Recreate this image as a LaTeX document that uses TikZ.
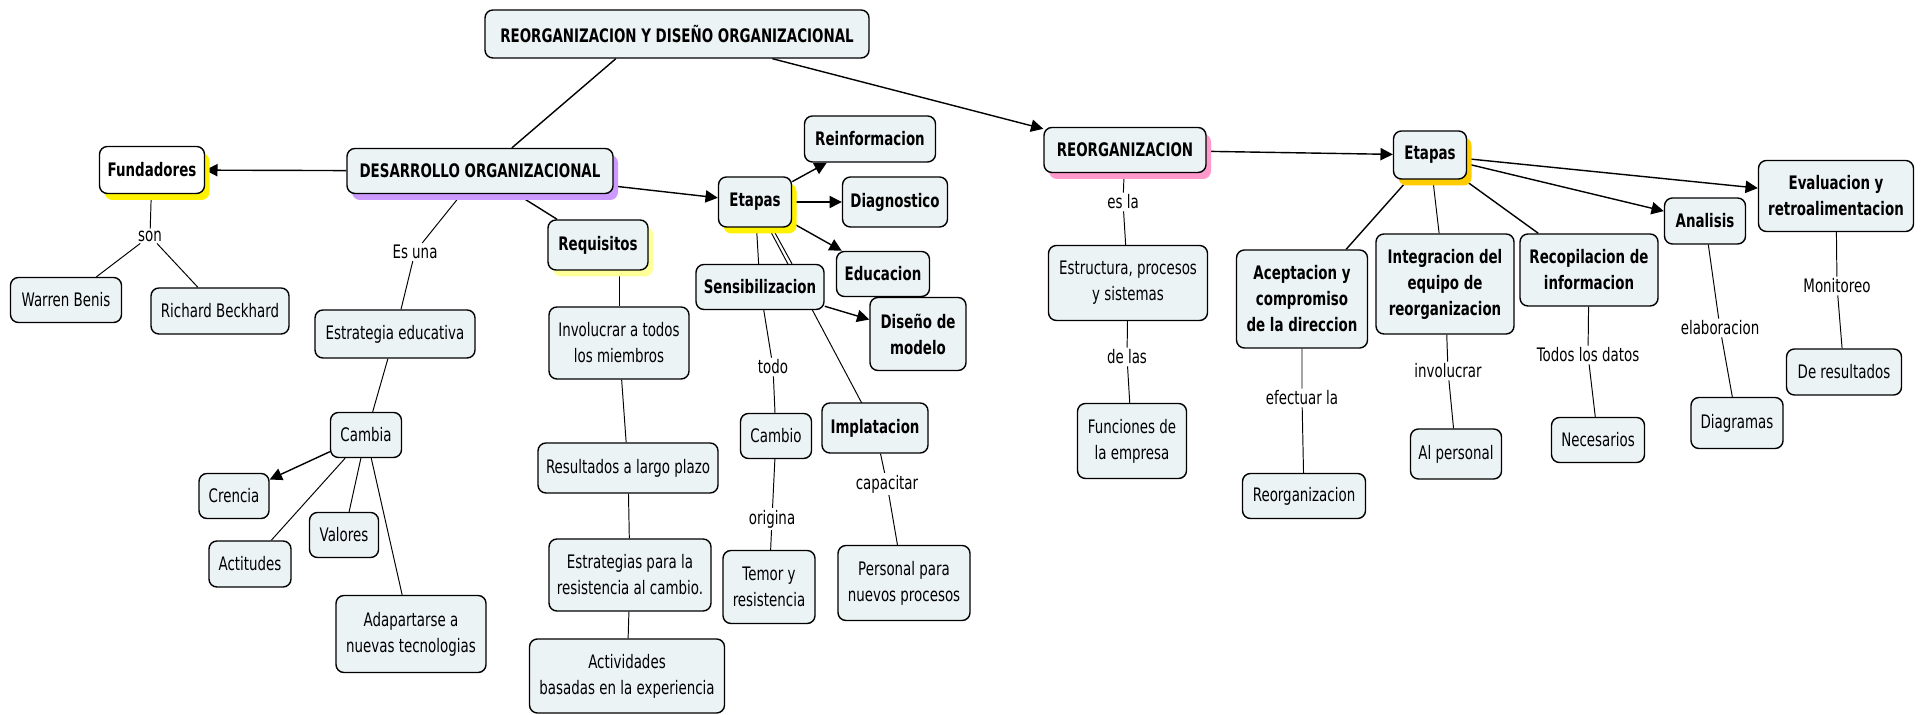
\documentclass[tikz,border=0pt]{standalone}
\usepackage{fontspec}
\setmainfont{DejaVu Sans}[FakeStretch=0.72]
\usetikzlibrary{arrows.meta,shadows,backgrounds}
\definecolor{boxfill}{RGB}{236,243,244}
\definecolor{lilac}{RGB}{204,153,255}
\definecolor{paleyellow}{RGB}{255,255,153}
\definecolor{rosy}{RGB}{255,153,204}
\definecolor{gold}{RGB}{255,204,0}

\begin{document}
\begin{tikzpicture}[x=0.02cm, y=-0.02cm,
	> = {Triangle[length=7pt,width=7pt]}, % arrow head style
	concept/.style={draw, rounded corners=4.5pt, fill=boxfill, line width=0.8pt,
		align=center, inner sep=2pt, font=\fontsize{10.6}{14.8}\selectfont},
	key/.style={concept, font=\fontsize{10.6}{14.8}\selectfont\bfseries},
	phrase/.style={inner sep=1pt, align=center, font=\fontsize{10.6}{14.8}\selectfont},
	wh/.style 2 args={minimum width=#1*0.02cm, minimum height=#2*0.02cm},
	halo/.style={drop shadow={shadow xshift=0.1cm, shadow yshift=-0.13cm, fill=#1, opacity=1}},
	link/.style={line width=0.8pt},
	thinlink/.style={line width=0.55pt}]
	\useasboundingbox (0,0) rectangle (1927,715);

	% top
	\node[key, wh={384}{48}] (title) at (677,34) {REORGANIZACION Y DISEÑO ORGANIZACIONAL};

	% desarrollo organizacional
	\node[key, wh={266}{45}, halo=lilac] (desarrollo) at (480,171) {DESARROLLO ORGANIZACIONAL};
	\node[key, wh={105}{47}, fill=white, halo=yellow] (fund) at (152,170) {Fundadores};
	\node[phrase] (son) at (150,236) {son};
	\node[concept, wh={111}{45}] (warren) at (66,300) {Warren Benis};
	\node[concept, wh={138}{46}] (richard) at (220,311) {Richard Beckhard};
	\node[phrase] (esuna) at (415,252) {Es una};
	\node[concept, wh={160}{48}] (estrat) at (395,334) {Estrategia educativa};
	\node[concept, wh={71}{45}] (cambia) at (366,435) {Cambia};
	\node[concept, wh={70}{45}] (crencia) at (234,496) {Crencia};
	\node[concept, wh={82}{46}] (actit) at (250,564) {Actitudes};
	\node[concept, wh={69}{45}] (valores) at (344,535) {Valores};
	\node[concept, wh={150}{77}] (adapt) at (411,634) {Adapartarse a\\nuevas tecnologias};

	\node[key, wh={100}{50}, halo=paleyellow] (req) at (598,245) {Requisitos};
	\node[concept, wh={140}{72}] (invol) at (619,343) {Involucrar a todos\\los miembros};
	\node[concept, wh={180}{50}] (result) at (628,468) {Resultados a largo plazo};
	\node[concept, wh={162}{72}] (estrres) at (630,575) {Estrategias para la\\resistencia al cambio.};
	\node[concept, wh={195}{74}] (activ) at (627,676) {Actividades\\basadas en la experiencia};

	\node[key, wh={73}{50}, halo=yellow] (etapasA) at (755,202) {Etapas};
	\node[key, wh={131}{46}] (reinf) at (870,139) {Reinformacion};
	\node[key, wh={105}{50}] (diag) at (895,202) {Diagnostico};
	\node[key, wh={93}{45}] (educ) at (883,274) {Educacion};
	\node[key, wh={96}{73}] (disen) at (918,334) {Diseño de\\modelo};
	\node[key, wh={128}{45}] (sens) at (760,287) {Sensibilizacion};
	\node[phrase] (todo) at (773,367) {todo};
	\node[concept, wh={71}{45}] (cambio) at (776,436) {Cambio};
	\node[phrase] (origina) at (772,519) {origina};
	\node[concept, wh={92}{73}] (temor) at (769,587) {Temor y\\resistencia};
	\node[key, wh={106}{50}] (implat) at (875,428) {Implatacion};
	\node[phrase] (capac) at (887,484) {capacitar};
	\node[concept, wh={132}{75}] (personal) at (904,583) {Personal para\\nuevos procesos};

	% reorganizacion
	\node[key, wh={162}{45}, halo=rosy] (reorg) at (1125,150) {REORGANIZACION};
	\node[phrase] (esla) at (1123,202) {es la};
	\node[concept, wh={159}{75}] (estruct) at (1128,283) {Estructura, procesos\\y sistemas};
	\node[phrase] (delas) at (1127,357) {de las};
	\node[concept, wh={109}{75}] (funcion) at (1132,441) {Funciones de\\la empresa};

	\node[key, wh={73}{48}, halo=gold] (etapasB) at (1430,155) {Etapas};
	\node[key, wh={131}{98}] (acept) at (1302,299) {Aceptacion y\\compromiso\\de la direccion};
	\node[phrase] (efect) at (1302,398) {efectuar la};
	\node[concept, wh={123}{45}] (reorgc) at (1304,496) {Reorganizacion};
	\node[key, wh={138}{100}] (integ) at (1445,284) {Integracion del\\equipo de\\reorganizacion};
	\node[phrase] (involc) at (1448,371) {involucrar};
	\node[concept, wh={91}{50}] (alpers) at (1456,454) {Al personal};
	\node[key, wh={138}{72}] (recop) at (1589,270) {Recopilacion de\\informacion};
	\node[phrase] (todos) at (1588,355) {Todos los datos};
	\node[concept, wh={93}{45}] (neces) at (1598,440) {Necesarios};
	\node[key, wh={81}{46}] (analisis) at (1705,221) {Analisis};
	\node[phrase] (elab) at (1720,328) {elaboracion};
	\node[concept, wh={92}{51}] (diagr) at (1737,423) {Diagramas};
	\node[key, wh={155}{71}] (eval) at (1836,196) {Evaluacion y\\retroalimentacion};
	\node[phrase] (monit) at (1837,286) {Monitoreo};
	\node[concept, wh={115}{46}] (deres) at (1844,372) {De resultados};

	\begin{scope}[on background layer]
	\draw[link] (title.202) -- (desarrollo.36);
	\draw[link,->] (title) -- (reorg);

	\draw[link,->] (desarrollo) -- (fund);
	\draw[thinlink] (fund) -- (son) -- (warren);
	\draw[thinlink] (son) -- (richard);
	\draw[thinlink] (desarrollo) -- (esuna) -- (estrat);
	\draw[thinlink] (estrat) -- (cambia);
	\draw[link,->] (cambia) -- (crencia);
	\draw[thinlink] (cambia) -- (actit);
	\draw[thinlink] (cambia) -- (valores);
	\draw[thinlink] (cambia) -- (adapt);

	\draw[link] (desarrollo) -- (req);
	\draw[thinlink] (req.south -| invol.north) -- (invol.north);
	\draw[thinlink] (invol) -- (result);
	\draw[thinlink] (result) -- (estrres);
	\draw[thinlink] (estrres) -- (activ);

	\draw[link,->] (desarrollo) -- (etapasA);
	\draw[link,->] (etapasA) -- (reinf);
	\draw[link,->] (etapasA) -- (diag);
	\draw[link,->] (etapasA) -- (educ);
	\draw[thinlink] (etapasA) -- (sens);
	\draw[thinlink] ([xshift=0.06cm]etapasA.center) -- ([xshift=0.64cm]sens.north);
	\draw[thinlink] (etapasA.center) -- (implat.center);
	\draw[link,->] (sens) -- (disen);
	\draw[thinlink] (sens) -- (todo) -- (cambio);
	\draw[thinlink] (cambio) -- (origina) -- (temor);
	\draw[thinlink] (implat) -- (capac) -- (personal);

	\draw[thinlink] (reorg) -- (esla) -- (estruct);
	\draw[thinlink] (estruct) -- (delas) -- (funcion);
	\draw[link,->] (reorg) -- (etapasB);
	\draw[link] (etapasB) -- (acept);
	\draw[thinlink] (etapasB) -- (integ);
	\draw[link] (etapasB) -- (recop);
	\draw[link,->] (etapasB) -- (analisis);
	\draw[link,->] (etapasB) -- (eval);
	\draw[thinlink] (acept) -- (efect) -- (reorgc);
	\draw[thinlink] (integ) -- (involc) -- (alpers);
	\draw[thinlink] (recop) -- (todos) -- (neces);
	\draw[thinlink] (analisis) -- (elab) -- (diagr);
	\draw[thinlink] (eval) -- (monit) -- (deres);
	\end{scope}

\end{tikzpicture}
\end{document}
